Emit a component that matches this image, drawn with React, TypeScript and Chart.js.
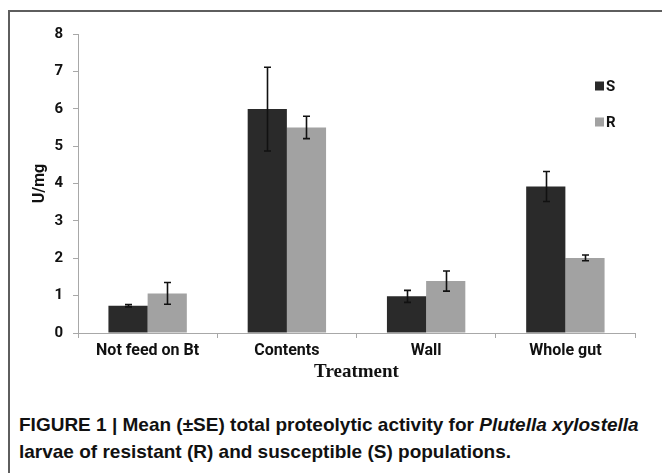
import React, { useEffect, useRef } from "react";
import { Chart, registerables } from "chart.js";

Chart.register(...registerables);

const categories = ["Not feed on Bt", "Contents", "Wall", "Whole gut"];
const sValues = [0.73, 5.99, 0.98, 3.92];
const rValues = [1.06, 5.5, 1.39, 2.01];
const sErrors = [0.03, 1.12, 0.16, 0.4];
const rErrors = [0.29, 0.3, 0.27, 0.075];
const seriesLabels = ["S", "R"];
const yMin = 0;
const yMax = 8;
const yStep = 1;

const SCOLOR = "#2a2a2a";
const RCOLOR = "#a2a2a2";
const SANS = "Roboto, 'Noto Sans', sans-serif";

const errorBarPlugin = {
  id: "errorBars",
  afterDatasetsDraw(chart: any) {
    const ctx = chart.ctx;
    const yScale = chart.scales.y;
    const errs = [sErrors, rErrors];
    ctx.save();
    ctx.strokeStyle = "#111";
    ctx.lineWidth = 1.6;
    chart.data.datasets.forEach((ds: any, di: number) => {
      const meta = chart.getDatasetMeta(di);
      meta.data.forEach((bar: any, i: number) => {
        const v = ds.data[i];
        const e = errs[di][i];
        const x = Math.round(bar.x) + 0.5;
        const yTop = yScale.getPixelForValue(v + e);
        const yBot = yScale.getPixelForValue(v - e);
        ctx.beginPath();
        ctx.moveTo(x, yTop);
        ctx.lineTo(x, yBot);
        ctx.moveTo(x - 3.5, yTop);
        ctx.lineTo(x + 3.5, yTop);
        ctx.moveTo(x - 3.5, yBot);
        ctx.lineTo(x + 3.5, yBot);
        ctx.stroke();
      });
    });
    ctx.restore();
  },
};

const legendPlugin = {
  id: "customLegend",
  afterDraw(chart: any) {
    const ctx = chart.ctx;
    const area = chart.chartArea;
    const x0 = area.right - 40;
    const ys = [area.top + 52, area.top + 88];
    ctx.save();
    ctx.font = "bold 15px " + SANS;
    ctx.textBaseline = "middle";
    chart.data.datasets.forEach((ds: any, i: number) => {
      ctx.fillStyle = ds.backgroundColor;
      ctx.fillRect(x0, ys[i] - 4.5, 9, 9);
      ctx.fillStyle = "#111";
      ctx.fillText(ds.label, x0 + 11, ys[i] + 1);
    });
    ctx.restore();
  },
};

function BarChart() {
  const ref = useRef<HTMLCanvasElement | null>(null);
  useEffect(() => {
    if (!ref.current) return;
    const chart = new Chart(ref.current, {
      type: "bar",
      data: {
        labels: categories,
        datasets: [
          { label: seriesLabels[0], data: sValues, backgroundColor: SCOLOR, borderWidth: 0 },
          { label: seriesLabels[1], data: rValues, backgroundColor: RCOLOR, borderWidth: 0 },
        ],
      },
      options: {
        animation: false,
        responsive: false,
        maintainAspectRatio: false,
        layout: { padding: { top: 34, right: 27, left: 0, bottom: 0 } },
        datasets: { bar: { categoryPercentage: 0.563, barPercentage: 1.0 } },
        plugins: {
          legend: { display: false },
          tooltip: { enabled: false },
        },
        scales: {
          x: {
            afterFit: (s: any) => {
              s.height = 67;
            },
            grid: {
              display: true,
              drawOnChartArea: false,
              drawTicks: true,
              tickLength: 5,
              color: "#a8a8a8",
              offset: true,
            },
            border: { display: true, color: "#a8a8a8", width: 1 },
            ticks: {
              color: "#111",
              padding: 3,
              font: { family: SANS, size: 16, weight: "bold" },
            },
            title: {
              display: true,
              text: "Treatment",
              color: "#111",
              padding: { top: 2, bottom: 17 },
              font: { family: "'Liberation Serif', 'DejaVu Serif', serif", size: 19, weight: "bold" },
            },
          },
          y: {
            min: yMin,
            max: yMax,
            afterFit: (s: any) => {
              s.width = 78;
            },
            grid: {
              display: true,
              drawOnChartArea: false,
              drawTicks: true,
              tickLength: 5,
              color: "#a8a8a8",
            },
            border: { display: true, color: "#a8a8a8", width: 1 },
            ticks: {
              stepSize: yStep,
              color: "#111",
              padding: 10,
              font: { family: SANS, size: 15, weight: "bold" },
            },
            title: {
              display: true,
              text: "U/mg",
              color: "#111",
              padding: { top: 30, bottom: 0 },
              font: { family: SANS, size: 16, weight: "bold" },
            },
          },
        },
      },
      plugins: [errorBarPlugin, legendPlugin],
    });
    return () => chart.destroy();
  }, []);
  return <canvas ref={ref} width={662} height={400} style={{ position: "absolute", left: 0, top: 0 }} />;
}

export default function App() {
  const captionFont = "'Liberation Sans Narrow', 'Arial Narrow', 'Liberation Sans', sans-serif";
  return (
    <div style={{ position: "absolute", left: 0, top: 0, width: 662, height: 473, overflow: "hidden", background: "#fff" }}>
      <div
        style={{
          position: "absolute",
          left: 8,
          top: 10,
          width: 720,
          height: 520,
          borderTop: "2px solid #5e5e5e",
          borderLeft: "2px solid #5e5e5e",
        }}
      />
      <BarChart />
      <div
        style={{
          position: "absolute",
          left: 19,
          top: 411,
          fontFamily: captionFont,
          fontWeight: "bold",
          fontSize: 19,
          lineHeight: "27px",
          color: "#111",
          whiteSpace: "nowrap",
        }}
      >
        <div>
          FIGURE 1 | Mean (±SE) total proteolytic activity for <i>Plutella xylostella</i>
        </div>
        <div>larvae of resistant (R) and susceptible (S) populations.</div>
      </div>
    </div>
  );
}
